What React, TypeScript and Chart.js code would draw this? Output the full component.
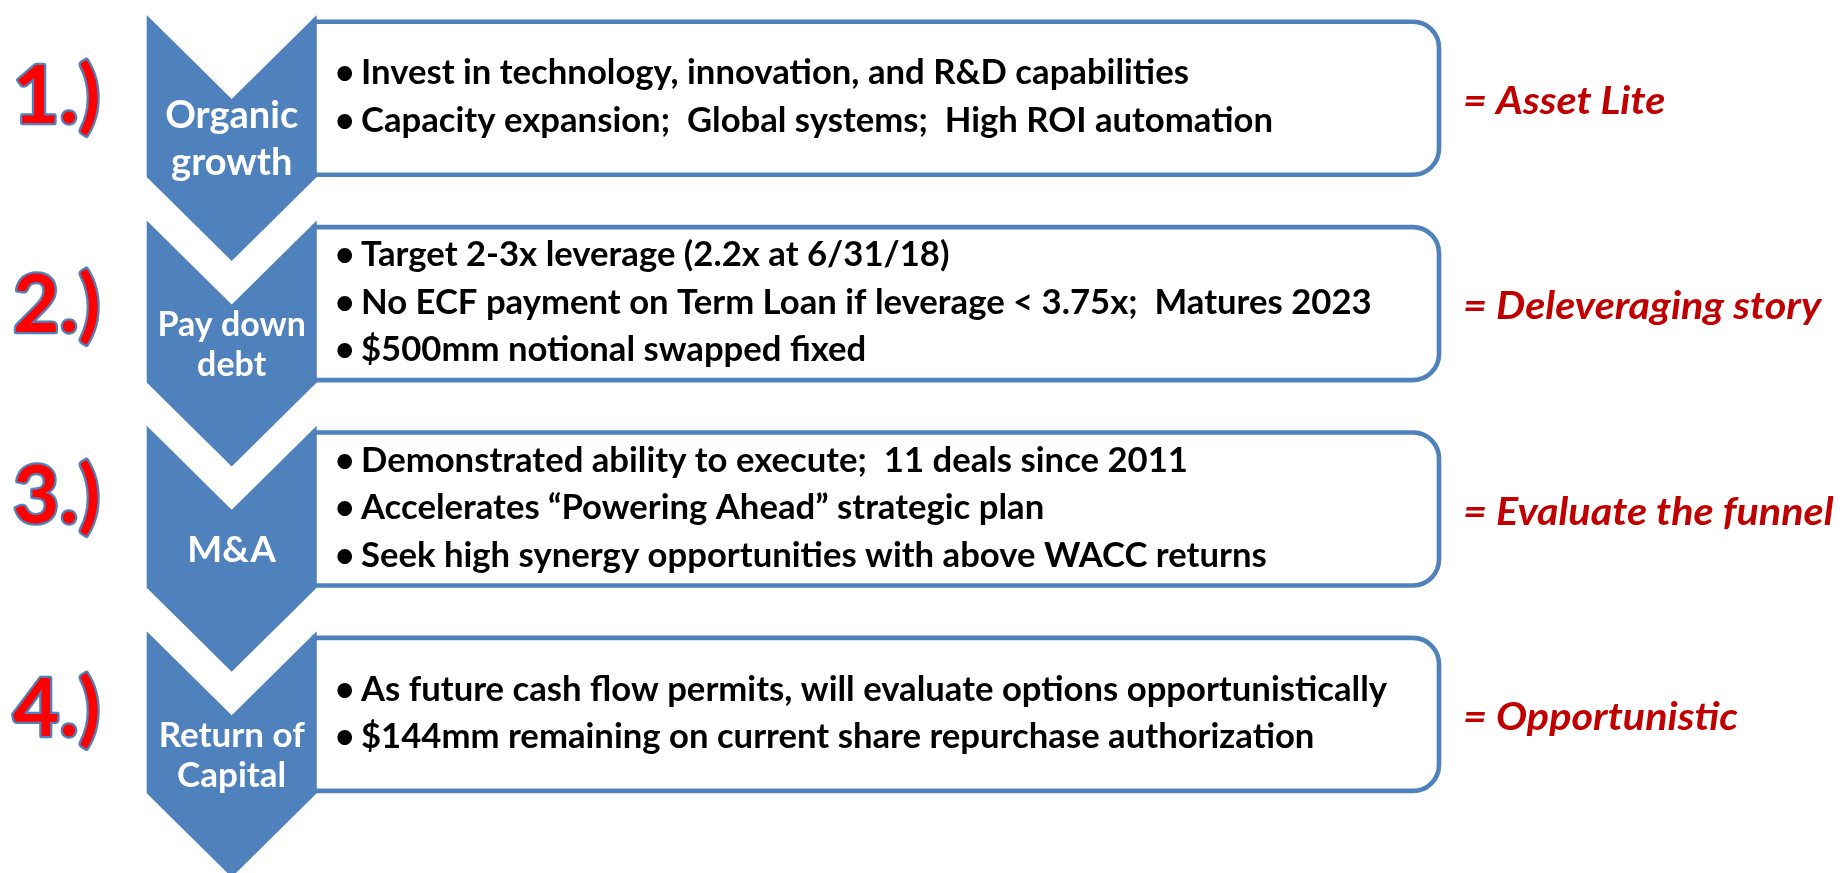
import React, { useEffect, useRef } from "react";
import { Chart, registerables } from "chart.js";

Chart.register(...registerables);

// ---------- data ----------
const stepNumbers = ["1.)", "2.)", "3.)", "4.)"];
const stepTitles = [["Organic", "growth"], ["Pay down", "debt"], ["M&A"], ["Return of", "Capital"]];
const stepBullets1 = [
  "Invest in technology, innovation, and R&D capabilities",
  "Capacity expansion;  Global systems;  High ROI automation",
];
const stepBullets2 = [
  "Target 2-3x leverage (2.2x at 6/31/18)",
  "No ECF payment on Term Loan if leverage < 3.75x;  Matures 2023",
  "$500mm notional swapped fixed",
];
const stepBullets3 = [
  "Demonstrated ability to execute;  11 deals since 2011",
  "Accelerates \u201CPowering Ahead\u201D strategic plan",
  "Seek high synergy opportunities with above WACC returns",
];
const stepBullets4 = [
  "As future cash flow permits, will evaluate options opportunistically",
  "$144mm remaining on current share repurchase authorization",
];
const stepBullets = [stepBullets1, stepBullets2, stepBullets3, stepBullets4];
const stepOutcomes = ["= Asset Lite", "= Deleveraging story", "= Evaluate the funnel", "= Opportunistic"];

// ---------- layout (canvas units) ----------
const W = 1843;
const H = 873;
const STEP = 205.4;
const CHEV_L = 146.7;
const CHEV_R = 316.7;
const CHEV_T0 = 15;
const CHEV_D = 84;
const CHEV_BODY = 162;
const BOX_L = 314;
const BOX_R = 1439;
const BOX_T0 = 21.7;
const BOX_H = 153;
const BOX_RAD = 26;
const NUM_BASE = [122.7, 331.7, 523.3, 736];
const TITLE_SIZE = [38, 34, 37, 35];
const TITLE_GAP = [47.3, 40, 0, 39.5];
const FONT = "Lato, 'Open Sans', sans-serif";
const BLUE = "#4F81BD";

function textScaled(ctx: CanvasRenderingContext2D, s: string, x: number, y: number, sx: number) {
  ctx.save();
  ctx.translate(x, y);
  ctx.scale(sx, 1);
  ctx.fillText(s, 0, 0);
  ctx.restore();
}

const diagramPlugin = {
  id: "chevronList",
  afterDraw(chart: any) {
    const ctx: CanvasRenderingContext2D = chart.ctx;
    const xs = chart.scales.x;
    const ys = chart.scales.y;
    const px = (v: number) => xs.getPixelForValue(v);
    const py = (v: number) => ys.getPixelForValue(v);
    const k = Math.abs(py(100) - py(0)) / 100;

    ctx.save();
    // boxes
    stepBullets.forEach((_, i) => {
      const t = py(BOX_T0 + STEP * i);
      const b = py(BOX_T0 + STEP * i + BOX_H);
      const l = px(BOX_L);
      const r = px(BOX_R);
      const rad = BOX_RAD * k;
      ctx.beginPath();
      ctx.moveTo(l, t);
      ctx.lineTo(r - rad, t);
      ctx.arcTo(r, t, r, t + rad, rad);
      ctx.lineTo(r, b - rad);
      ctx.arcTo(r, b, r - rad, b, rad);
      ctx.lineTo(l, b);
      ctx.closePath();
      ctx.fillStyle = "#FFFFFF";
      ctx.fill();
      ctx.lineWidth = 4.6 * k;
      ctx.strokeStyle = BLUE;
      ctx.stroke();
    });

    // chevrons
    stepTitles.forEach((_, i) => {
      const T = CHEV_T0 + STEP * i;
      const C = (CHEV_L + CHEV_R) / 2;
      ctx.beginPath();
      ctx.moveTo(px(CHEV_L), py(T));
      ctx.lineTo(px(C), py(T + CHEV_D));
      ctx.lineTo(px(CHEV_R), py(T));
      ctx.lineTo(px(CHEV_R), py(T + CHEV_BODY));
      ctx.lineTo(px(C), py(T + CHEV_BODY + CHEV_D));
      ctx.lineTo(px(CHEV_L), py(T + CHEV_BODY));
      ctx.closePath();
      ctx.fillStyle = BLUE;
      ctx.fill();
    });

    // chevron titles
    ctx.textAlign = "center";
    ctx.textBaseline = "alphabetic";
    stepTitles.forEach((lines, i) => {
      const T = CHEV_T0 + STEP * i;
      const yc = T + CHEV_D / 2 + CHEV_BODY / 2;
      const size = TITLE_SIZE[i];
      const cap = size * 0.72;
      ctx.font = `bold ${size * k}px ${FONT}`;
      ctx.fillStyle = "#FFFFFF";
      lines.forEach((ln, j) => {
        const base = yc + cap / 2 + (j - (lines.length - 1) / 2) * TITLE_GAP[i];
        ctx.fillText(ln, px((CHEV_L + CHEV_R) / 2), py(base));
      });
    });

    // bullets
    ctx.textAlign = "left";
    stepBullets.forEach((lines, i) => {
      const center = BOX_T0 + STEP * i + BOX_H / 2;
      lines.forEach((ln, j) => {
        const base = center + 10 + (j - (lines.length - 1) / 2) * 47.5;
        ctx.fillStyle = "#000000";
        ctx.font = `bold ${33.5 * k}px ${FONT}`;
        textScaled(ctx, "\u2022", px(335), py(base), 1.0);
        textScaled(ctx, ln, px(361), py(base), 1.035);
      });
    });

    // outcome labels
    stepOutcomes.forEach((txt, i) => {
      const center = BOX_T0 + STEP * i + BOX_H / 2;
      ctx.font = `italic bold ${39 * k}px ${FONT}`;
      ctx.fillStyle = "#C00000";
      textScaled(ctx, txt, px(1463), py(center + 15.5), 1.06);
    });

    // step numbers
    stepNumbers.forEach((txt, i) => {
      ctx.font = `bold ${80 * k}px ${FONT}`;
      ctx.lineJoin = "round";
      ctx.lineWidth = 4.5 * k;
      ctx.strokeStyle = BLUE;
      ctx.strokeText(txt, px(13), py(NUM_BASE[i]));
      ctx.fillStyle = "#FF0000";
      ctx.fillText(txt, px(13), py(NUM_BASE[i]));
    });
    ctx.restore();
  },
};

export default function App() {
  const ref = useRef<HTMLCanvasElement | null>(null);
  useEffect(() => {
    if (!ref.current) return;
    const chart = new Chart(ref.current, {
      type: "scatter",
      data: { datasets: [{ data: [], pointRadius: 0 }] },
      options: {
        animation: false,
        responsive: true,
        maintainAspectRatio: false,
        layout: { padding: 0 },
        plugins: { legend: { display: false }, tooltip: { enabled: false } },
        scales: {
          x: { type: "linear", min: 0, max: W, display: false },
          y: { type: "linear", min: 0, max: H, reverse: true, display: false },
        },
      },
      plugins: [diagramPlugin],
    });
    return () => chart.destroy();
  }, []);
  return (
    <div style={{ position: "fixed", left: 0, top: 0, width: "100vw", height: "100vh", background: "#fff" }}>
      <canvas ref={ref} />
    </div>
  );
}
